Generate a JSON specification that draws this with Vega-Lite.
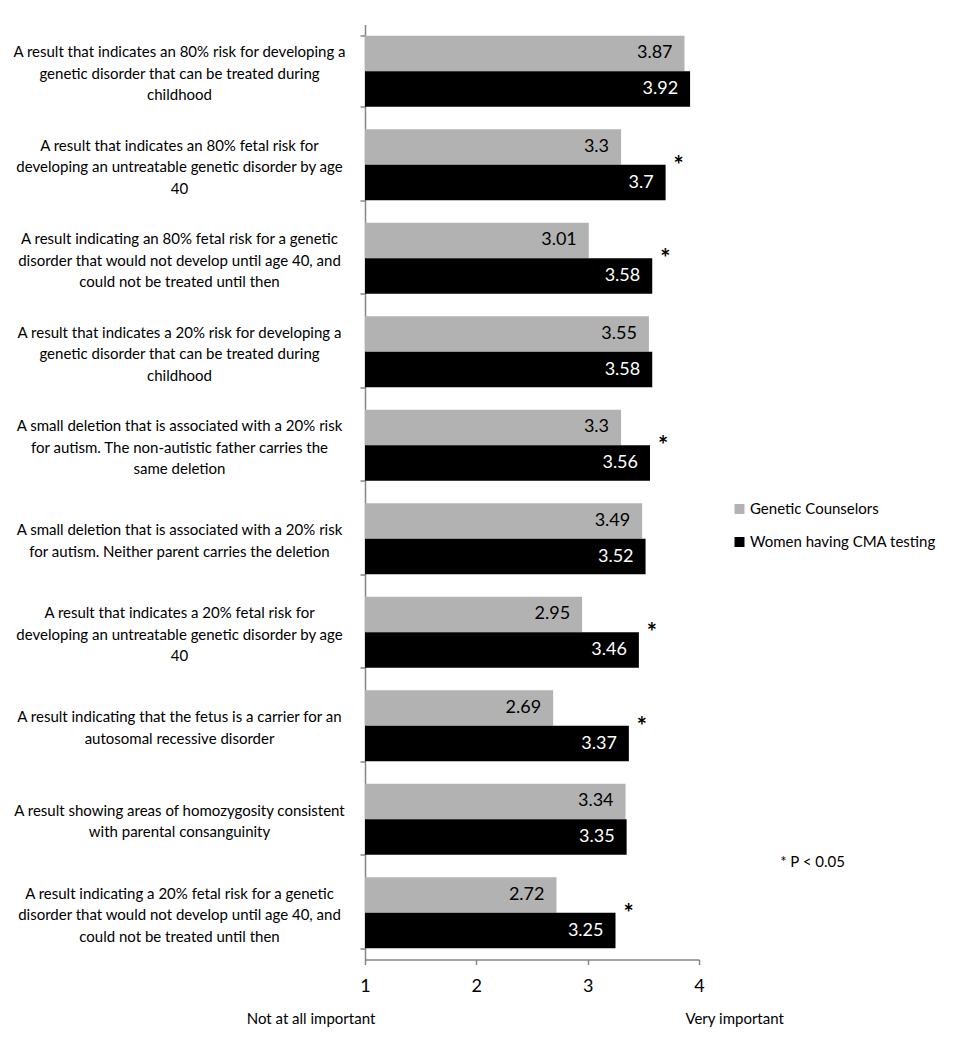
{
  "$schema": "https://vega.github.io/schema/vega-lite/v6.json",
  "width": 334,
  "height": 935,
  "autosize": {"type": "none"},
  "padding": {"left": 365, "top": 24.5, "right": 257, "bottom": 90.5},
  "background": "white",
  "config": {
    "view": {"stroke": null},
    "font": "Lato",
    "axis": {"domainColor": "#868686", "tickColor": "#868686", "domainWidth": 1.5, "tickWidth": 1.5, "grid": false, "labelColor": "black", "title": null}
  },
  "data": {"values": [
    {"category": "A result that indicates an 80% risk for developing a|genetic disorder that can be treated during|childhood", "group": "Genetic Counselors", "value": 3.87, "sig": false},
    {"category": "A result that indicates an 80% risk for developing a|genetic disorder that can be treated during|childhood", "group": "Women having CMA testing", "value": 3.92, "sig": false},
    {"category": "A result that indicates an 80% fetal risk for|developing an untreatable genetic disorder by age|40", "group": "Genetic Counselors", "value": 3.3, "sig": false},
    {"category": "A result that indicates an 80% fetal risk for|developing an untreatable genetic disorder by age|40", "group": "Women having CMA testing", "value": 3.7, "sig": true},
    {"category": "A result indicating an 80% fetal risk for a genetic|disorder that would not develop until age 40, and|could not be treated until then", "group": "Genetic Counselors", "value": 3.01, "sig": false},
    {"category": "A result indicating an 80% fetal risk for a genetic|disorder that would not develop until age 40, and|could not be treated until then", "group": "Women having CMA testing", "value": 3.58, "sig": true},
    {"category": "A result that indicates a 20% risk for developing a|genetic disorder that can be treated during |childhood", "group": "Genetic Counselors", "value": 3.55, "sig": false},
    {"category": "A result that indicates a 20% risk for developing a|genetic disorder that can be treated during |childhood", "group": "Women having CMA testing", "value": 3.58, "sig": false},
    {"category": "A small deletion that is associated with a 20% risk|for autism. The non-autistic father carries the|same deletion", "group": "Genetic Counselors", "value": 3.3, "sig": false},
    {"category": "A small deletion that is associated with a 20% risk|for autism. The non-autistic father carries the|same deletion", "group": "Women having CMA testing", "value": 3.56, "sig": true},
    {"category": "A small deletion that is associated with a 20% risk|for autism. Neither parent carries the deletion", "group": "Genetic Counselors", "value": 3.49, "sig": false},
    {"category": "A small deletion that is associated with a 20% risk|for autism. Neither parent carries the deletion", "group": "Women having CMA testing", "value": 3.52, "sig": false},
    {"category": "A result that indicates a 20% fetal risk for|developing an untreatable genetic disorder by age |40", "group": "Genetic Counselors", "value": 2.95, "sig": false},
    {"category": "A result that indicates a 20% fetal risk for|developing an untreatable genetic disorder by age |40", "group": "Women having CMA testing", "value": 3.46, "sig": true},
    {"category": "A result indicating that the fetus is a carrier for an|autosomal recessive disorder", "group": "Genetic Counselors", "value": 2.69, "sig": false},
    {"category": "A result indicating that the fetus is a carrier for an|autosomal recessive disorder", "group": "Women having CMA testing", "value": 3.37, "sig": true},
    {"category": "A result showing areas of homozygosity consistent|with parental consanguinity", "group": "Genetic Counselors", "value": 3.34, "sig": false},
    {"category": "A result showing areas of homozygosity consistent|with parental consanguinity", "group": "Women having CMA testing", "value": 3.35, "sig": false},
    {"category": "A result indicating a 20% fetal risk for a genetic|disorder that would not develop until age 40, and |could not be treated until then", "group": "Genetic Counselors", "value": 2.72, "sig": false},
    {"category": "A result indicating a 20% fetal risk for a genetic|disorder that would not develop until age 40, and |could not be treated until then", "group": "Women having CMA testing", "value": 3.25, "sig": true}
  ]},
  "encoding": {
    "y": {
      "field": "category", "type": "nominal", "sort": null,
      "scale": {"paddingInner": 0.24, "paddingOuter": 0.12},
      "axis": {
        "labelExpr": "isString(datum.value) ? split(datum.value, '|') : ''",
        "labelAlign": "center", "labelBaseline": "middle",
        "labelOffset": {"condition": {"test": "isString(datum.value) && length(split(datum.value, '|')) == 3", "value": -19.5}, "value": -9},
        "labelPadding": 181, "labelFontSize": 15, "labelLineHeight": 21.5,
        "labelLimit": 400, "tickBand": "extent", "tickSize": 5
      }
    }
  },
  "layer": [
    {
      "mark": {"type": "bar"},
      "encoding": {
        "yOffset": {"field": "group", "type": "nominal", "sort": ["Genetic Counselors", "Women having CMA testing"], "scale": {"paddingInner": 0, "paddingOuter": 0}},
        "x": {
          "field": "value", "type": "quantitative",
          "scale": {"domain": [1, 4], "nice": false, "zero": false},
          "axis": {
            "values": [1, 2, 3, 4],
            "format": "d",
            "labelFontSize": 18, "labelPadding": 13,
            "labelOverlap": false, "labelFlush": false, "labelBound": false,
            "labelBaseline": "top", "tickSize": 5
          }
        },
        "x2": {"datum": 1},
        "color": {
          "field": "group", "type": "nominal",
          "scale": {"domain": ["Genetic Counselors", "Women having CMA testing"], "range": ["#b2b2b2", "#000000"]},
          "legend": {
            "title": null, "orient": "none", "legendX": 367, "legendY": 477,
            "symbolType": "square", "symbolSize": 100, "symbolStrokeWidth": 0,
            "labelFontSize": 15, "rowPadding": 17, "labelOffset": 3, "labelLimit": 400
          }
        }
      }
    },
    {
      "mark": {"type": "text", "align": "right", "baseline": "middle", "dx": -12, "fontSize": 18},
      "encoding": {
        "yOffset": {"field": "group", "type": "nominal", "sort": ["Genetic Counselors", "Women having CMA testing"]},
        "x": {"field": "value", "type": "quantitative"},
        "text": {"field": "value", "type": "quantitative"},
        "color": {"condition": {"test": "datum.group == 'Genetic Counselors'", "value": "black"}, "value": "white"}
      }
    },
    {
      "transform": [{"filter": "datum.sig"}],
      "mark": {"type": "text", "align": "center", "baseline": "middle", "dx": 13, "dy": 2, "fontSize": 24, "fontWeight": "bold", "color": "black"},
      "encoding": {
        "x": {"field": "value", "type": "quantitative"},
        "text": {"value": "*"}
      }
    },
    {
      "data": {"values": [{"note": "* P < 0.05"}]},
      "mark": {"type": "text", "align": "center", "baseline": "middle", "dy": 43, "fontSize": 15, "color": "black"},
      "encoding": {
        "x": {"datum": 5.02, "type": "quantitative"},
        "y": {"datum": "A result showing areas of homozygosity consistent|with parental consanguinity", "type": "nominal"},
        "text": {"field": "note"}
      }
    },
    {
      "data": {"values": [{"note": "Not at all important", "pos": 0.515}, {"note": "Very important", "pos": 4.32}]},
      "mark": {"type": "text", "align": "center", "baseline": "middle", "dy": 106, "fontSize": 15, "color": "black"},
      "encoding": {
        "x": {"field": "pos", "type": "quantitative"},
        "y": {"datum": "A result indicating a 20% fetal risk for a genetic|disorder that would not develop until age 40, and |could not be treated until then", "type": "nominal"},
        "text": {"field": "note"}
      }
    }
  ]
}
